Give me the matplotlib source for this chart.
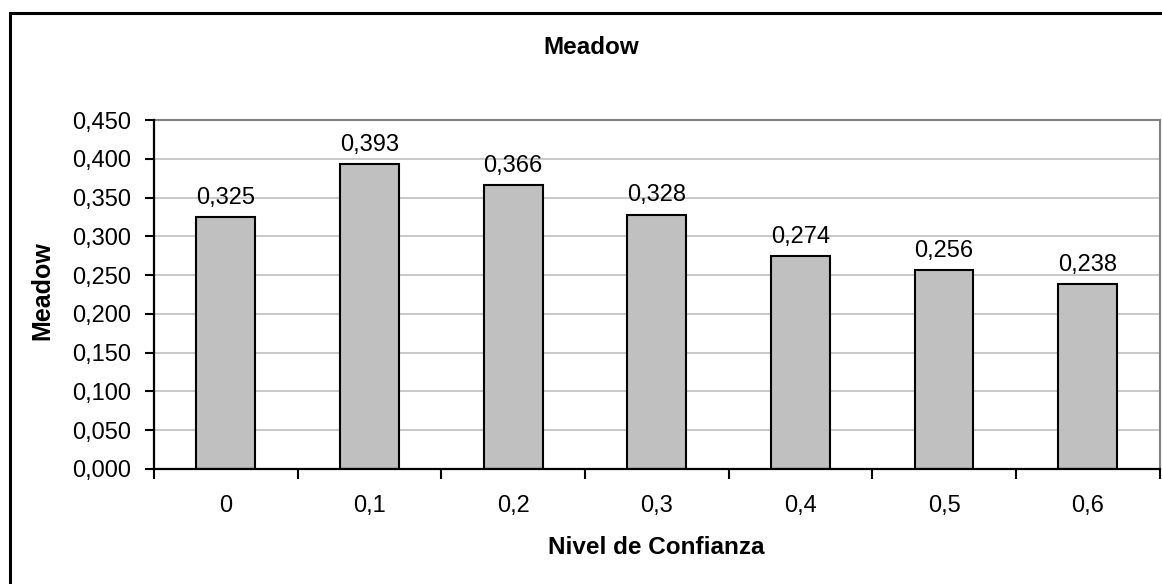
import matplotlib
matplotlib.use("Agg")
import matplotlib.pyplot as plt
from matplotlib.patches import Rectangle

# datos
niveles = ["0", "0,1", "0,2", "0,3", "0,4", "0,5", "0,6"]
meadow = [0.325, 0.393, 0.366, 0.328, 0.274, 0.256, 0.238]
y_ticks = [0.0, 0.05, 0.10, 0.15, 0.20, 0.25, 0.30, 0.35, 0.40, 0.45]

W, H = 1162, 584
plt.rcParams['font.family'] = ['Liberation Sans', 'DejaVu Sans']

fig = plt.figure(figsize=(W / 100, H / 100), dpi=100)
fig.patch.set_facecolor('white')
ax = fig.add_axes([154 / W, 1 - 469 / H, (1159.5 - 154) / W, (469 - 120) / H])

x = list(range(len(niveles)))
ax.bar(x, meadow, width=0.41, color='#c0c0c0', edgecolor='black',
       linewidth=1.5, zorder=3)

for xi, v in zip(x, meadow):
    ax.annotate(f"{v:.3f}".replace('.', ','), (xi, v), xytext=(0, 9.5),
                textcoords='offset points', ha='center', va='baseline',
                fontsize=17, zorder=4)

ax.set_xlim(-0.5, len(niveles) - 0.5)
ax.set_ylim(0, 0.45)
ax.set_yticks(y_ticks)
ax.set_yticklabels([f"{t:.3f}".replace('.', ',') for t in y_ticks])
ax.set_xticks(x)
ax.set_xticklabels(niveles)
ax.set_xticks([k - 0.5 for k in range(len(niveles) + 1)], minor=True)

ax.tick_params(axis='y', direction='out', length=6.5, width=1.5,
               pad=10, labelsize=17)
ax.tick_params(axis='x', which='major', length=0, pad=19, labelsize=17)
ax.tick_params(axis='x', which='minor', direction='out', length=7.2,
               width=1.5)

ax.yaxis.grid(True, color='#c0c0c0', linewidth=1.2, zorder=0)
ax.set_axisbelow(True)

for s in ['left', 'bottom']:
    ax.spines[s].set_color('black')
    ax.spines[s].set_linewidth(1.6)
    ax.spines[s].set_zorder(5)
for s in ['top', 'right']:
    ax.spines[s].set_color('#808080')
    ax.spines[s].set_linewidth(1.5)

ax.set_xlabel('Nivel de Confianza', fontsize=17.5, fontweight='bold')
ax.xaxis.label.set_va('center')
ax.xaxis.set_label_coords(0.5, (469 - 548) / 349)
ax.set_ylabel('Meadow', fontsize=18, fontweight='bold')
ax.yaxis.label.set_va('center')
ax.yaxis.set_label_coords((42 - 154) / 1005.5, (469 - 291) / 349)

fig.text(591 / W, 1 - 47 / H, 'Meadow', ha='center', va='center',
         fontsize=17.5, fontweight='bold')

# marco exterior del grafico (cortado a la derecha y abajo)
fig.add_artist(Rectangle((9.5 / W, -0.1), 1.2, 1 - 13.3 / H + 0.1,
                         transform=fig.transFigure, fill=False,
                         edgecolor='black', linewidth=2.2))

fig.savefig('out.png', dpi=100, facecolor='white')
